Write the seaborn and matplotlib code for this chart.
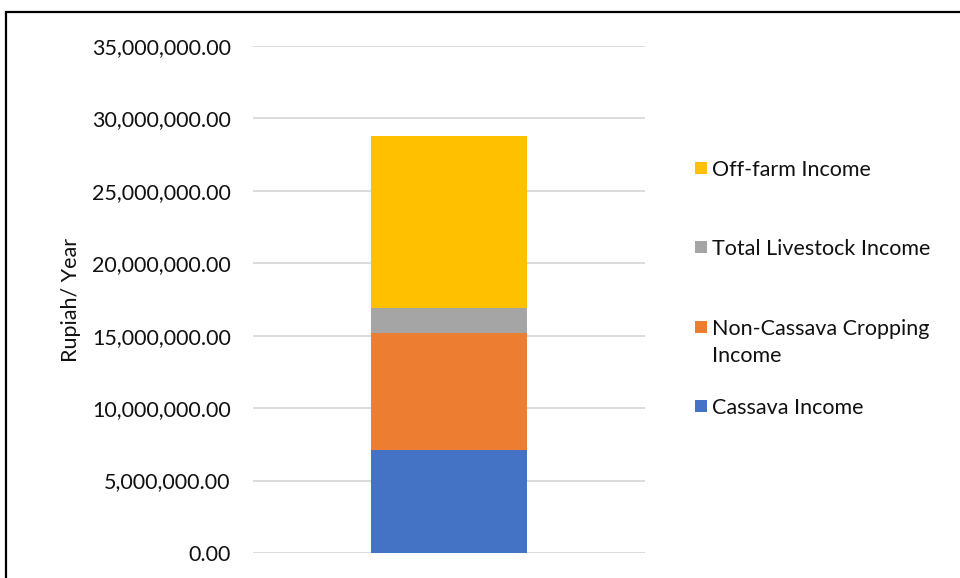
import numpy as np
import pandas as pd
import matplotlib
matplotlib.use("Agg")
import matplotlib.pyplot as plt
import seaborn as sns
from matplotlib.patches import Rectangle
from matplotlib.ticker import FuncFormatter, MultipleLocator

# Household income components (Rupiah per year), stacked bottom to top
sources = ["Cassava Income", "Non-Cassava Cropping Income",
           "Total Livestock Income", "Off-farm Income"]
legend_labels = ["Cassava Income", "Non-Cassava Cropping\nIncome",
                 "Total Livestock Income", "Off-farm Income"]
values = [7130000, 8060000, 1740000, 11860000]
colors = ["#4472C4", "#ED7D31", "#A5A5A5", "#FFC000"]

sns.set_theme(style="white")
plt.rcParams["font.family"] = ["Lato", "DejaVu Sans"]

fig = plt.figure(figsize=(9.6, 5.78), dpi=100)
ax = fig.add_axes([253 / 960, 1 - 553 / 578, (645 - 253) / 960, (553 - 46) / 578])

df = pd.DataFrame({"source": sources, "value": values})
df["top"] = df["value"].cumsum()
df["cat"] = ""

# Draw cumulative totals from the tallest down so each segment shows its own slice
for i in range(len(df) - 1, -1, -1):
    sns.barplot(data=df.iloc[[i]], x="cat", y="top", color=colors[i],
                saturation=1, width=0.4, ax=ax, zorder=3, linewidth=0)

ax.set_xlim(-0.5, 0.5)
ax.set_ylim(0, 35000000)
ax.yaxis.set_major_locator(MultipleLocator(5000000))
ax.yaxis.set_major_formatter(FuncFormatter(lambda v, p: f"{v:,.2f}"))
ax.grid(axis="y", color="#d9d9d9", linewidth=1.3, zorder=0)
ax.set_axisbelow(True)
for s in ax.spines.values():
    s.set_visible(False)
ax.tick_params(axis="y", length=0, pad=16, labelsize=15.5, labelcolor="#111111")
ax.tick_params(axis="x", length=0, labelbottom=False)
ax.set_xlabel("")
ax.set_ylabel("Rupiah/ Year", fontsize=15.5, color="#111111", labelpad=8)

# Legend entries, listed top-down in reverse stacking order
entry_y = [406, 327, 247, 168]
for lab, col, yc in zip(legend_labels, colors, entry_y):
    fig.patches.append(Rectangle((695 / 960, 1 - (yc + 6) / 578), 12 / 960, 12 / 578,
                                 transform=fig.transFigure, facecolor=col,
                                 edgecolor="none"))
    fig.text(712 / 960, 1 - (yc - 8) / 578, lab, fontsize=15.5, color="#111111",
             va="top", ha="left", linespacing=1.45)

# Outer chart border
fig.patches.append(Rectangle((6 / 960, -0.1), 2.0, 1.1 - 12 / 578,
                             transform=fig.transFigure, facecolor="none",
                             edgecolor="black", linewidth=1.6))

fig.savefig("out.png", dpi=100)
